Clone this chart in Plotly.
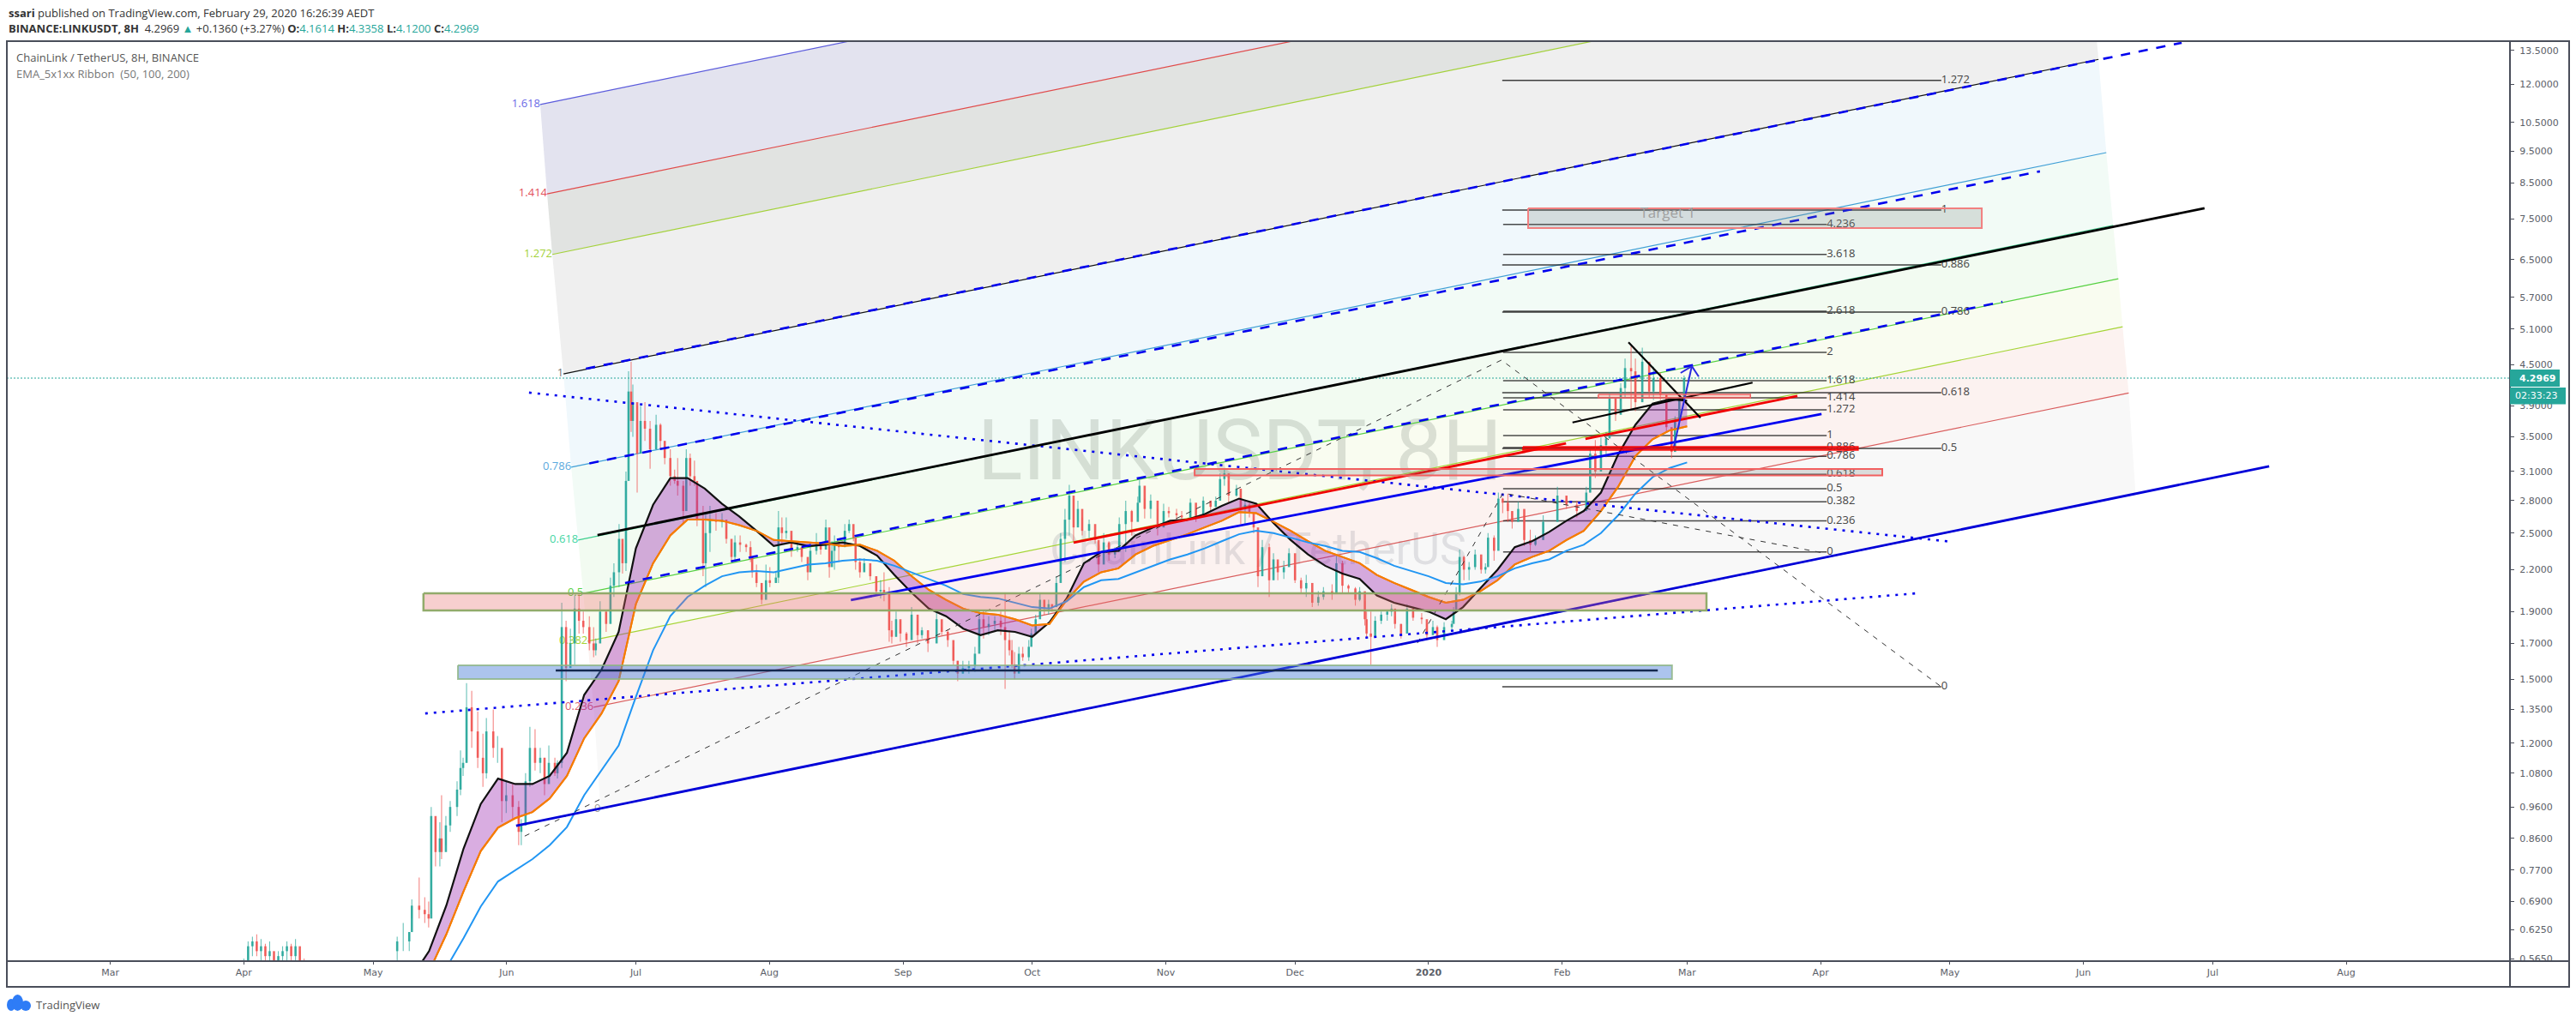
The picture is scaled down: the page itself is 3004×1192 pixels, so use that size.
import math
import pandas as pd
import plotly.graph_objects as go

BASE = pd.Timestamp("2019-05-01")

# ---------- price axis / time axis ----------
price_ticks = [13.5, 12, 10.5, 9.5, 8.5, 7.5, 6.5, 5.7, 5.1, 4.5, 3.9, 3.5, 3.1, 2.8, 2.5, 2.2, 1.9, 1.7, 1.5,
               1.35, 1.2, 1.08, 0.96, 0.86, 0.77, 0.69, 0.625, 0.565]
month_ticks = ["2019-03-01", "2019-04-01", "2019-05-01", "2019-06-01", "2019-07-01", "2019-08-01", "2019-09-01",
               "2019-10-01", "2019-11-01", "2019-12-01", "2020-01-01", "2020-02-01", "2020-03-01", "2020-04-01",
               "2020-05-01", "2020-06-01", "2020-07-01", "2020-08-01"]
month_labels = ["Mar", "Apr", "May", "Jun", "Jul", "Aug", "Sep", "Oct", "Nov", "Dec", "<b>2020</b>", "Feb", "Mar",
                "Apr", "May", "Jun", "Jul", "Aug"]
last_price = 4.2969

# ---------- candles (days since 2019-05-01; open = previous close) ----------
april_day = [-30, -29, -28, -27, -26, -25, -24, -23, -22, -21, -20, -19, -18, -17, -16]
april_high = [.565, .60, .61, .615, .605, .595, .60, .57, .58, .59, .60, .595, .605, .58, .565]
april_low = [.54, .55, .57, .57, .55, .55, .56, .54, .55, .56, .56, .55, .55, .55, .54]
april_close = [.55, .59, .60, .58, .59, .57, .58, .56, .57, .58, .59, .57, .59, .56, .55]

c_day = [5.6, 7, 8.4, 9, 10.7, 12, 12.9, 13.5, 14.5, 15.5, 15.9, 16.9, 17.9, 19.5, 20.3, 20.9, 21.7, 22.9, 24.3, 25.5,
         26.3, 27.9, 28.9, 29.9, 30.9, 32.4, 33.8, 34.4, 35.4, 36.4, 37.6, 38.8, 39.8, 40.8, 42.2, 42.8, 43.8, 44.8,
         45.8, 46.8, 47.8, 48.8, 50.2, 51.2, 51.7, 52.7, 54.1, 55.1, 55.9, 57.1, 57.9, 58.7, 59.3, 59.9, 60.3, 61.3,
         62.1, 63.1, 64.3, 65.7, 66.7, 67.7, 69, 70, 70.7, 72, 72.7, 73.6, 74.6, 75.2, 76.6, 77.2, 78.2, 79.6, 81, 82,
         83.2, 84, 85.2, 86.6, 87.6, 88, 89, 90.2, 91.2, 92.1, 93.5, 94.1, 94.9, 95.9, 97.1, 98.5, 99.5, 100.9, 101.5,
         102.9, 103.9, 105.1, 105.9, 106.5, 107.1, 108.1, 109.5, 110.5, 111.5, 112, 113, 114, 115.4, 116.8, 117.8,
         118.6, 119.8, 120.4, 121.4, 122.4, 123.8, 125, 126.4, 127.4, 128.8, 130.8, 132, 133.4, 134.7, 135.7, 136.9,
         138.3, 139.7, 140.7, 141.7, 142.9, 144.3, 145.7, 146.7, 147.7, 148.3, 148.9, 149.9, 150.8, 152.2, 152.8,
         153.8, 154.8, 155.8, 156.8, 157.6, 158.6, 159.6, 160.6, 161.6, 162.6, 163.6, 164.6, 166.2, 167.6, 168.4,
         169.6, 170.8, 172.2, 173.2, 174.7, 176.1, 177.5, 177.9, 179.1, 180.5, 182.1, 183.5, 184.7, 186.5, 187.7,
         189.7, 191, 192.7, 194.4, 195.6, 196.6, 197.6, 198.6, 200.4, 201.4, 202.4, 203.4, 204.4, 205.4, 206.4, 208,
         209, 210, 211.4, 212.6, 214, 215.4, 216.6, 218, 219.4, 220.6, 222.6, 223.6, 225, 226.4, 228, 229, 230.2,
         230.6, 231.6, 232.6, 234, 235.4, 236.4, 237.2, 238.6, 240, 241.4, 243.4, 244.6, 246, 247, 248.6, 250.4,
         250.8, 251.4, 252.2, 253.2, 254.4, 255.8, 257.2, 258.2, 258.8, 260.2, 261.2, 262.2, 263.4, 264.4, 265.8,
         267.2, 268.6, 269.8, 271.6, 274.9, 277, 279.4, 281.6, 282.5, 283.7, 285, 286.2, 287, 288.4, 289.6, 290.6, 292,
         293, 294.6, 296.2, 297.2, 298.8, 300.2, 301.4, 302.2, 303.2, 304.3]
c_high = [.61, .64, .62, .695, .75, .70, .69, .96, .92, .91, 1.00, .93, .98, 1.05, 1.17, 1.14, 1.48, 1.44, 1.34, 1.24,
          1.31, 1.35, 1.23, 1.17, 1.05, 1.04, .98, .92, 1.08, 1.27, 1.26, 1.18, 1.14, 1.19, 1.14, 1.13, 1.96, 1.84,
          1.79, 2.01, 2.03, 1.90, 1.87, 1.80, 1.73, 1.97, 1.90, 2.14, 2.25, 2.58, 2.41, 3.10, 4.40, 4.55, 4.20, 3.90,
          3.90, 3.95, 3.70, 3.78, 3.67, 3.45, 3.35, 3.12, 3.25, 3.00, 3.35, 3.30, 3.22, 2.80, 2.75, 2.68, 2.75, 2.68,
          2.68, 2.56, 2.41, 2.48, 2.48, 2.41, 2.43, 2.26, 2.24, 2.10, 2.24, 2.22, 2.18, 2.70, 2.64, 2.64, 2.48, 2.41,
          2.38, 2.26, 2.41, 2.50, 2.41, 2.62, 2.38, 2.43, 2.48, 2.43, 2.58, 2.62, 2.50, 2.39, 2.29, 2.29, 2.21, 2.15,
          2.12, 2.18, 2.07, 1.84, 1.90, 1.84, 1.77, 1.93, 1.84, 1.80, 1.78, 1.90, 1.80, 1.78, 1.68, 1.60, 1.60, 1.60,
          1.68, 1.91, 1.91, 1.87, 1.87, 1.90, 2.03, 1.78, 1.72, 1.65, 1.68, 1.68, 1.72, 1.79, 1.88, 2.02, 1.98, 1.98,
          1.95, 2.15, 2.50, 2.72, 2.96, 2.82, 2.80, 2.64, 2.62, 2.52, 2.37, 2.50, 2.43, 2.38, 2.64, 2.80, 2.71, 2.84,
          3.01, 2.82, 2.86, 2.72, 2.77, 2.74, 2.72, 2.70, 2.82, 2.72, 2.84, 2.80, 2.84, 3.08, 3.13, 3.00, 2.96, 2.90,
          2.80, 2.78, 2.64, 2.44, 2.44, 2.41, 2.33, 2.26, 2.27, 2.37, 2.23, 2.14, 2.16, 2.04, 2.04, 2.07, 2.09, 2.31,
          2.27, 2.09, 2.07, 2.07, 1.97, 1.90, 1.90, 1.87, 1.90, 1.91, 1.95, 1.87, 1.82, 1.95, 1.92, 1.89, 1.82, 1.84,
          1.81, 1.83, 1.84, 1.93, 2.07, 2.36, 2.31, 2.26, 2.36, 2.29, 2.25, 2.50, 2.48, 2.88, 2.83, 2.87, 2.70, 2.79,
          2.66, 2.53, 2.48, 2.66, 2.94, 2.84, 2.80, 2.94, 3.35, 3.46, 3.49, 3.56, 4.09, 4.01, 4.22, 4.60, 4.80, 4.60,
          4.78, 4.38, 4.47, 4.38, 4.06, 3.60, 3.76, 4.08, 4.3358]
c_low = [.54, .58, .58, .65, .65, .64, .63, .66, .78, .78, .80, .84, .88, .93, 1.00, 1.07, 1.12, 1.18, 1.10, 1.03,
         1.06, 1.14, 1.12, .91, .94, .92, .84, .84, .96, 1.03, 1.09, 1.08, 1.00, 1.06, 1.07, 1.06, 1.10, 1.49, 1.58,
         1.58, 1.76, 1.76, 1.66, 1.62, 1.63, 1.76, 1.77, 1.89, 2.00, 2.07, 2.17, 2.19, 3.25, 3.56, 3.50, 2.88, 3.30,
         3.45, 3.13, 3.35, 3.35, 3.18, 2.95, 2.97, 2.85, 2.58, 2.97, 2.95, 2.95, 2.56, 2.15, 2.07, 2.34, 2.52, 2.55,
         2.41, 2.26, 2.26, 2.34, 2.34, 2.26, 2.14, 2.07, 1.95, 2.03, 2.07, 2.10, 2.10, 2.41, 2.45, 2.30, 2.34, 2.26,
         2.12, 2.20, 2.32, 2.32, 2.38, 2.14, 2.26, 2.20, 2.26, 2.43, 2.50, 2.43, 2.20, 2.14, 2.19, 2.12, 2.01, 1.99,
         1.97, 1.71, 1.70, 1.74, 1.71, 1.68, 1.77, 1.70, 1.73, 1.65, 1.73, 1.75, 1.68, 1.58, 1.49, 1.53, 1.53, 1.54,
         1.68, 1.73, 1.75, 1.78, 1.75, 1.45, 1.63, 1.56, 1.50, 1.56, 1.60, 1.60, 1.72, 1.79, 1.88, 1.88, 1.88, 1.90,
         1.95, 2.15, 2.26, 2.48, 2.43, 2.58, 2.48, 2.46, 2.41, 2.18, 2.32, 2.27, 2.29, 2.35, 2.34, 2.48, 2.64, 2.80,
         2.63, 2.63, 2.48, 2.60, 2.64, 2.62, 2.62, 2.62, 2.60, 2.72, 2.70, 2.74, 2.82, 2.95, 2.78, 2.84, 2.58, 2.58,
         2.64, 2.50, 2.07, 2.25, 2.00, 2.16, 2.12, 2.13, 2.23, 2.10, 2.03, 2.00, 1.93, 1.94, 1.98, 1.98, 2.12, 2.03,
         2.03, 1.94, 1.97, 1.81, 1.73, 1.58, 1.77, 1.82, 1.84, 1.87, 1.79, 1.73, 1.82, 1.84, 1.82, 1.73, 1.76, 1.68,
         1.77, 1.77, 1.83, 1.90, 2.01, 2.12, 2.12, 2.20, 2.17, 2.17, 2.36, 2.27, 2.58, 2.68, 2.60, 2.54, 2.62, 2.39,
         2.34, 2.39, 2.46, 2.72, 2.72, 2.64, 2.75, 2.88, 3.03, 3.24, 3.26, 3.60, 3.70, 3.96, 4.01, 3.85, 3.83, 4.36,
         4.01, 3.98, 3.98, 3.56, 3.25, 3.35, 3.60, 4.12]
c_close = [.60, .60, .62, .68, .67, .66, .65, .93, .82, .86, .82, .90, .96, 1.02, 1.10, 1.12, 1.36, 1.25, 1.14, 1.08,
           1.25, 1.18, 1.18, .98, 1.00, .96, .88, .90, 1.05, 1.18, 1.12, 1.14, 1.04, 1.12, 1.08, 1.12, 1.80, 1.56,
           1.70, 1.92, 1.84, 1.80, 1.70, 1.66, 1.70, 1.90, 1.82, 2.08, 2.18, 2.45, 2.25, 3.00, 4.10, 3.70, 3.95, 3.30,
           3.70, 3.60, 3.35, 3.65, 3.45, 3.25, 3.05, 3.00, 2.95, 2.70, 3.25, 3.05, 3.00, 2.62, 2.25, 2.50, 2.62, 2.60,
           2.62, 2.45, 2.30, 2.42, 2.40, 2.38, 2.30, 2.18, 2.10, 1.98, 2.12, 2.10, 2.14, 2.55, 2.50, 2.52, 2.36, 2.38,
           2.30, 2.18, 2.35, 2.42, 2.36, 2.55, 2.22, 2.35, 2.40, 2.38, 2.52, 2.58, 2.46, 2.26, 2.18, 2.25, 2.15, 2.04,
           2.05, 2.02, 1.78, 1.74, 1.85, 1.76, 1.72, 1.88, 1.75, 1.78, 1.70, 1.85, 1.77, 1.72, 1.60, 1.53, 1.56, 1.57,
           1.64, 1.85, 1.80, 1.82, 1.84, 1.80, 1.72, 1.66, 1.58, 1.53, 1.64, 1.62, 1.68, 1.76, 1.85, 1.98, 1.92, 1.95,
           1.93, 2.10, 2.45, 2.62, 2.85, 2.55, 2.72, 2.52, 2.58, 2.44, 2.24, 2.42, 2.32, 2.34, 2.58, 2.70, 2.60, 2.78,
           2.95, 2.72, 2.80, 2.55, 2.70, 2.68, 2.66, 2.64, 2.78, 2.65, 2.80, 2.74, 2.80, 3.02, 3.08, 2.85, 2.92, 2.72,
           2.76, 2.68, 2.55, 2.15, 2.38, 2.12, 2.28, 2.18, 2.22, 2.33, 2.12, 2.06, 2.10, 1.96, 2.00, 2.04, 2.02, 2.25,
           2.08, 2.06, 1.98, 2.04, 1.85, 1.76, 1.74, 1.84, 1.88, 1.90, 1.92, 1.82, 1.76, 1.92, 1.86, 1.85, 1.75, 1.80,
           1.72, 1.80, 1.82, 1.90, 2.03, 2.30, 2.20, 2.22, 2.32, 2.20, 2.22, 2.46, 2.35, 2.82, 2.78, 2.70, 2.60, 2.72,
           2.44, 2.40, 2.44, 2.60, 2.85, 2.76, 2.70, 2.88, 3.30, 3.10, 3.40, 3.48, 4.00, 3.78, 4.15, 4.45, 4.40, 3.95,
           4.55, 4.10, 4.30, 4.05, 3.62, 3.32, 3.70, 4.00, 4.2969]

# ---------- EMA ribbon, one reading every 4 days from 2019-05-10 ----------
ema50 = [.53, .58, .68, .83, .97, 1.06, 1.04, 1.04, 1.07, 1.16, 1.42, 1.55, 1.77, 2.37, 2.76, 3.03, 3.03, 2.92, 2.77,
         2.65, 2.52, 2.39, 2.42, 2.39, 2.40, 2.42, 2.39, 2.31, 2.16, 2.03, 1.92, 1.87, 1.79, 1.75, 1.78, 1.77, 1.74,
         1.83, 1.99, 2.25, 2.34, 2.35, 2.48, 2.55, 2.61, 2.62, 2.67, 2.75, 2.82, 2.77, 2.59, 2.44, 2.32, 2.23, 2.17,
         2.13, 2.01, 1.96, 1.93, 1.90, 1.85, 1.93, 2.06, 2.20, 2.38, 2.43, 2.51, 2.61, 2.70, 2.88, 3.29, 3.65, 3.93,
         3.99, 3.97]
ema100 = [.48, .54, .615, .715, .823, .893, .923, .943, .989, 1.07, 1.22, 1.33, 1.49, 1.95, 2.25, 2.48, 2.62, 2.62,
          2.61, 2.57, 2.52, 2.44, 2.43, 2.42, 2.41, 2.39, 2.40, 2.35, 2.27, 2.15, 2.05, 1.98, 1.92, 1.89, 1.88, 1.85,
          1.81, 1.82, 1.98, 2.11, 2.18, 2.21, 2.32, 2.39, 2.44, 2.49, 2.55, 2.61, 2.69, 2.68, 2.60, 2.52, 2.43, 2.35,
          2.30, 2.25, 2.16, 2.10, 2.05, 2.00, 1.96, 1.98, 2.04, 2.12, 2.24, 2.30, 2.35, 2.44, 2.52, 2.70, 2.94, 3.27,
          3.47, 3.58, 3.63]
ema200 = [.43, .485, .547, .607, .678, .74, .77, .80, .84, .895, 1.00, 1.09, 1.19, 1.41, 1.66, 1.87, 2.00, 2.08, 2.15,
          2.18, 2.19, 2.18, 2.21, 2.24, 2.25, 2.27, 2.28, 2.27, 2.23, 2.18, 2.13, 2.08, 2.02, 2.00, 1.99, 1.96, 1.93,
          1.92, 1.97, 2.07, 2.12, 2.13, 2.18, 2.23, 2.28, 2.32, 2.37, 2.43, 2.49, 2.52, 2.50, 2.46, 2.42, 2.39, 2.35,
          2.34, 2.29, 2.23, 2.19, 2.15, 2.10, 2.09, 2.11, 2.15, 2.21, 2.25, 2.28, 2.35, 2.40, 2.50, 2.66, 2.87, 3.04,
          3.14, 3.20]

# ---------- fib channel ----------
chan_levels = ["1.618", "1.414", "1.272", "1", "0.786", "0.618", "0.5", "0.382", "0.236", "0"]
chan_day0 = [38.8, 40.4, 41.6, 44.2, 46.0, 47.6, 48.8, 49.8, 51.2, 52.8]
chan_price0 = [11.18, 8.18, 6.62, 4.36, 3.147, 2.44, 2.025, 1.713, 1.36, .954]
chan_day1 = [395.1, 396.7, 397.9, 400.5, 402.3, 403.9, 405.1, 406.1, 407.5, 409.1]
chan_price1 = [33.57, 24.56, 19.88, 13.09, 9.45, 7.33, 6.08, 5.14, 4.08, 2.865]
chan_line = ["#5b5bdc", "#e04a4a", "#a3d13a", "#111111", "#3f9fd6", "#3ccf8e", "#55d040", "#a5d435", "#d95c5c", "#999999"]
chan_text = ["#6a6ae6", "#e2505a", "#a3d13a", "#777777", "#5aa9dd", "#45d6a4", "#55d040", "#a5d435", "#d9606e", "#999999"]
chan_fill = ["#e3e3ef", "#e1e3e1", "#efefef", "#f0f8fc", "#f2fbf6", "#f2fbf1", "#f9fcf0", "#fcf2f0", "#f8f8f8"]

# ---------- horizontal fib sets ----------
set1_labels = ["1.272", "1", "0.886", "0.786", "0.618", "0.5", "0"]
set1_prices = [12.16, 7.73, 6.38, 5.41, 4.084, 3.361, 1.461]
set1_days = [262.1, 364.0]
set2_labels = ["4.236", "3.618", "2.618", "2", "1.618", "1.414", "1.272", "1", "0.886", "0.786", "0.618", "0.5",
               "0.382", "0.236", "0"]
set2_prices = [7.35, 6.62, 5.43, 4.70, 4.26, 4.01, 3.846, 3.515, 3.37, 3.27, 3.07, 2.92, 2.79, 2.61, 2.34]
set2_days = [262.3, 337.4]

# ---------- trend lines ----------
dash_a_day, dash_a_price = [49.4, 419.8], [4.44, 13.87]
dash_b_day, dash_b_price = [50.2, 386.9], [3.19, 8.85]
dash_c_day, dash_c_price = [58.5, 378.2], [2.10, 5.61]
black_day, black_price = [52.1, 425.1], [2.483, 7.78]
red_day, red_price = [162.6, 276.9, None, 281.4, 330.6], [2.418, 3.42, None, 3.475, 4.035]
blue_day, blue_price = [110.9, 336.2], [1.978, 3.79]
floor_day, floor_price = [33.2, 440.1], [.899, 3.157]
dot_down_day, dot_down_price = [36.2, 366.4], [4.085, 2.425]
dot_up_day, dot_up_price = [12.1, 358.1], [1.331, 2.025]
zig1_day, zig1_price = [35.2, 261.9, 364.0], [.867, 4.576, 1.461]
zig2_day, zig2_price = [242.4, 262.3, 337.0], [1.702, 2.875, 2.33]
tri_down_day, tri_down_price = [291.4, 308.1], [4.87, 3.74]
tri_up_day, tri_up_price = [278.4, 320.2], [3.68, 4.23]
arrow_day, arrow_price = [301.9, 306.1, None, 303.5, 306.1, 307.7], [3.37, 4.48, None, 4.375, 4.48, 4.32]
support_day, support_price = [42.4, 298.2], [1.547, 1.547]

# ---------- zones: (left day, right day, top price, bottom price) ----------
zone_pink = (11.7, 309.5, 2.025, 1.907)
zone_blue = (19.7, 301.5, 1.575, 1.501)
zone_target = (268.1, 373.4, 7.78, 7.26)
zone_red_wide = (190.7, 350.3, 3.128, 3.058)
zone_red_thick = (266.9, 344.7, 3.382, 3.34)
zone_red_small = (284.4, 319.7, 4.06, 4.01)

# ---------- helpers ----------
def days(values):
    return [None if v is None else BASE + pd.Timedelta(days=v) for v in values]

# pane position, in page pixels
PL, PR, PT, PB = 8, 2927, 48, 1121
W, H = 3004, 1192
def px(x):
    return (x - PL) / (PR - PL)
def py(y):
    return (PB - y) / (PB - PT)

fig = go.Figure()

def line(d, p, color, width=1, dash="solid", name=None):
    fig.add_trace(go.Scatter(x=days(d), y=p, mode="lines", line=dict(color=color, width=width, dash=dash),
                             hoverinfo="skip", showlegend=False, name=name, connectgaps=False))

def zone(z, fill, border, bw=2):
    l, r, t, b = z
    fig.add_trace(go.Scatter(x=days([l, r, r, l, l]), y=[t, t, b, b, t], mode="lines", fill="toself",
                             fillcolor=fill, line=dict(color=border, width=bw), hoverinfo="skip", showlegend=False))

# channel bands
for i, col in enumerate(chan_fill):
    fig.add_trace(go.Scatter(
        x=days([chan_day0[i], chan_day1[i], chan_day1[i + 1], chan_day0[i + 1], chan_day0[i]]),
        y=[chan_price0[i], chan_price1[i], chan_price1[i + 1], chan_price0[i + 1], chan_price0[i]],
        mode="lines", fill="toself", fillcolor=col, line=dict(width=0, color=col), hoverinfo="skip", showlegend=False))

# watermark
fig.add_trace(go.Scatter(x=days([201.2]), y=[3.25], mode="text", text=["LINKUSDT, 8H"], hoverinfo="skip",
                         textfont=dict(family="Roboto", size=98, color="rgba(110,125,110,0.22)"), showlegend=False))
fig.add_trace(go.Scatter(x=days([205.4]), y=[2.33], mode="text", text=["ChainLink / TetherUS"], hoverinfo="skip",
                         textfont=dict(family="Roboto", size=52, color="rgba(110,110,125,0.18)"), showlegend=False))

# channel lines and their labels
for i in range(len(chan_levels)):
    line([chan_day0[i], chan_day1[i]], [chan_price0[i], chan_price1[i]], chan_line[i], 1.2)
fig.add_trace(go.Scatter(x=days(chan_day0), y=chan_price0, mode="text", text=chan_levels, textposition="middle left",
                         textfont=dict(family="Open Sans", size=13, color=chan_text), hoverinfo="skip", showlegend=False))

# current price line
line([-85, 496], [last_price, last_price], "#26a69a", 1, "2px,2px")

# horizontal fib sets
for p in set1_prices:
    line(set1_days, [p, p], "rgba(30,30,30,0.85)", 1.5)
for p in set2_prices:
    line(set2_days, [p, p], "rgba(30,30,30,0.8)", 1.5)
fig.add_trace(go.Scatter(x=days([set1_days[1]] * len(set1_prices)), y=set1_prices, mode="text", text=set1_labels,
                         textposition="middle right", textfont=dict(family="Open Sans", size=13, color="#444444"),
                         hoverinfo="skip", showlegend=False))
fig.add_trace(go.Scatter(x=days([set2_days[1]] * len(set2_prices)), y=set2_prices, mode="text", text=set2_labels,
                         textposition="middle right", textfont=dict(family="Open Sans", size=13, color="#444444"),
                         hoverinfo="skip", showlegend=False))

# candles
def candles(day, high, low, close, first_open):
    wu_x, wu_y, wd_x, wd_y, bu_x, bu_y, bd_x, bd_y = [], [], [], [], [], [], [], []
    prev = first_open
    ts = days(day)
    for t, h, l, c in zip(ts, high, low, close):
        up = c >= prev
        (wu_x if up else wd_x).extend([t, t, None])
        (wu_y if up else wd_y).extend([l, h, None])
        (bu_x if up else bd_x).extend([t, t, None])
        (bu_y if up else bd_y).extend([prev, c, None])
        prev = c
    for xx, yy, col, w in ((wu_x, wu_y, "rgba(38,166,154,0.7)", 1.1), (wd_x, wd_y, "rgba(239,83,80,0.7)", 1.1),
                           (bu_x, bu_y, "rgba(38,166,154,0.9)", 2.6), (bd_x, bd_y, "rgba(239,83,80,0.9)", 2.6)):
        fig.add_trace(go.Scatter(x=xx, y=yy, mode="lines", line=dict(color=col, width=w), hoverinfo="skip",
                                 showlegend=False, connectgaps=False))

candles(april_day, april_high, april_low, april_close, .55)
candles(c_day, c_high, c_low, c_close, .58)

# EMA ribbon
ema_x = pd.date_range("2019-05-10", periods=len(ema50), freq="4D")
fig.add_trace(go.Scatter(x=ema_x, y=ema100, mode="lines", line=dict(color="#f57c00", width=2), hoverinfo="skip",
                         showlegend=False))
fig.add_trace(go.Scatter(x=ema_x, y=ema50, mode="lines", line=dict(color="#111111", width=2.2), fill="tonexty",
                         fillcolor="rgba(156,39,176,0.38)", hoverinfo="skip", showlegend=False))
fig.add_trace(go.Scatter(x=ema_x, y=ema100, mode="lines", line=dict(color="#f57c00", width=2), hoverinfo="skip",
                         showlegend=False))
fig.add_trace(go.Scatter(x=ema_x, y=ema200, mode="lines", line=dict(color="#2196f3", width=2), hoverinfo="skip",
                         showlegend=False))

# trend lines
line(dot_down_day, dot_down_price, "#0000ee", 2.6, "3px,7px")
line(dot_up_day, dot_up_price, "#0000ee", 2.6, "3px,7px")
line(zig1_day, zig1_price, "#333333", 1, "6px,7px")
line(zig2_day, zig2_price, "#333333", 1, "6px,7px")
line(dash_a_day, dash_a_price, "#0000ee", 2.6, "11px,10px")
line(dash_b_day, dash_b_price, "#0000ee", 2.6, "11px,10px")
line(dash_c_day, dash_c_price, "#0000ee", 2.6, "11px,10px")
line(black_day, black_price, "#000000", 2.8)
line(red_day, red_price, "#f00000", 2.8)
line(blue_day, blue_price, "#0000f0", 2.8)
line(floor_day, floor_price, "#0000d8", 2.8)
line(tri_down_day, tri_down_price, "#000000", 2.2)
line(tri_up_day, tri_up_price, "#000000", 2.2)
line(arrow_day, arrow_price, "#2a2adf", 2)

# zones
zone(zone_pink, "rgba(232,110,110,0.33)", "rgba(140,168,100,0.95)", 2.5)
zone(zone_blue, "rgba(70,125,215,0.45)", "rgba(140,180,130,0.8)", 2)
line(support_day, support_price, "#14284f", 2.6)
zone(zone_target, "rgba(120,130,125,0.23)", "#f28080", 2)
zone(zone_red_wide, "rgba(120,130,125,0.23)", "#f26060", 2)
zone(zone_red_small, "rgba(240,60,60,0.2)", "#f26060", 1.5)
zone(zone_red_thick, "rgba(255,0,0,0.7)", "rgba(250,0,0,0.9)", 1.5)
fig.add_trace(go.Scatter(x=days([300.5]), y=[7.62], mode="text", text=["Target 1"], hoverinfo="skip",
                         textfont=dict(family="Open Sans", size=17, color="#a0a0a0"), showlegend=False))

# ---------- page furniture (paper coordinates) ----------
ink = "#4a4e5a"
shapes = [
    dict(type="rect", xref="paper", yref="paper", x0=px(8), x1=px(2996), y0=py(48), y1=py(1151),
         line=dict(color=ink, width=2), layer="above"),
    dict(type="line", xref="paper", yref="paper", x0=px(PR), x1=px(PR), y0=py(48), y1=py(1151),
         line=dict(color=ink, width=2), layer="above"),
    dict(type="line", xref="paper", yref="paper", x0=px(8), x1=px(2996), y0=py(PB), y1=py(PB),
         line=dict(color=ink, width=2), layer="above"),
    dict(type="rect", xref="paper", yref="paper", x0=px(PR + 1), x1=px(2995), y0=py(PB + 1), y1=py(1150),
         fillcolor="#ffffff", line=dict(width=0), layer="above"),
    dict(type="rect", xref="paper", yref="paper", x0=px(PR), x1=px(2985), y0=py(431), y1=py(451),
         fillcolor="#26a69a", line=dict(width=0), layer="above"),
    dict(type="rect", xref="paper", yref="paper", x0=px(PR), x1=px(2992), y0=py(452), y1=py(471.5),
         fillcolor="#26a69a", line=dict(width=0), layer="above"),
    # TradingView cloud mark
    dict(type="circle", xref="paper", yref="paper", x0=px(8), x1=px(18), y0=py(1165), y1=py(1179),
         fillcolor="#2e7cf6", line=dict(width=0), layer="above"),
    dict(type="circle", xref="paper", yref="paper", x0=px(14), x1=px(27), y0=py(1160), y1=py(1179),
         fillcolor="#2e7cf6", line=dict(width=0), layer="above"),
    dict(type="circle", xref="paper", yref="paper", x0=px(24), x1=px(36), y0=py(1167), y1=py(1179),
         fillcolor="#2e7cf6", line=dict(width=0), layer="above"),
]

def note(x, y, text, size=13, color="#333333", family="Open Sans", anchor="left"):
    return dict(xref="paper", yref="paper", x=px(x), y=py(y), text=text, showarrow=False, xanchor=anchor,
                yanchor="middle", align="left", font=dict(family=family, size=size, color=color))

teal = "#26a69a"
def tl(v):
    return f'<span style="color:{teal}">{v}</span>'

annotations = [
    note(8, 15, "<b>ssari</b> published on TradingView.com, February 29, 2020 16:26:39 AEDT", 13, "#333333"),
    note(8, 33, f'<b>BINANCE:LINKUSDT, 8H</b>  4.2969 {tl("▲")} +0.1360 (+3.27%) <b>O:</b>{tl("4.1614")} '
                f'<b>H:</b>{tl("4.3358")} <b>L:</b>{tl("4.1200")} <b>C:</b>{tl("4.2969")}', 13, "#333333"),
    note(17, 67, "ChainLink / TetherUS, 8H, BINANCE", 13, "#555555"),
    note(17, 86, "EMA_5x1xx Ribbon  (50, 100, 200)", 13, "#777777"),
    note(2936, 441, "<b>4.2969</b>", 11, "#ffffff", "DejaVu Sans"),
    note(2931, 461.5, "02:33:23", 11, "#ffffff", "DejaVu Sans"),
    note(40, 1172, "TradingView", 13, "#555555"),
]

y_lo, y_hi = 0.5601, 13.95
fig.update_layout(
    width=W, height=H, autosize=False,
    margin=dict(l=PL, r=W - PR, t=PT, b=H - PB, pad=0),
    paper_bgcolor="#ffffff", plot_bgcolor="#ffffff",
    showlegend=False,
    shapes=shapes, annotations=annotations,
    xaxis=dict(type="date", range=[BASE + pd.Timedelta(days=-85), BASE + pd.Timedelta(days=496)],
               tickmode="array", tickvals=month_ticks, ticktext=month_labels,
               showgrid=False, zeroline=False, showline=False, ticks="outside", ticklen=3, tickcolor=ink,
               tickfont=dict(family="DejaVu Sans", size=11, color="#5b6068")),
    yaxis=dict(type="log", side="right", range=[math.log10(y_lo), math.log10(y_hi)],
               tickmode="array", tickvals=price_ticks, ticktext=[f"{v:.4f}" for v in price_ticks],
               showgrid=False, zeroline=False, showline=False, ticks="outside", ticklen=4, tickcolor=ink,
               ticklabelstandoff=4, tickfont=dict(family="DejaVu Sans", size=11, color="#5b6068")),
)

fig.write_html("out.html", config=dict(displayModeBar=False),
               post_script="document.body.style.margin='0';")
